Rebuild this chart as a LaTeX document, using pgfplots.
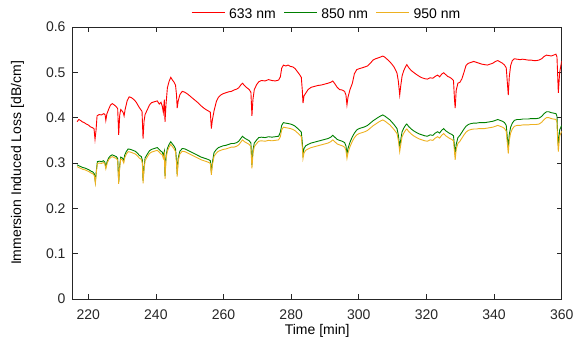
\documentclass[border=0pt]{standalone}
\usepackage{pgfplots}
\pgfplotsset{compat=1.18}
\usepackage{pgfplotstable}
\usepackage{fontspec}
\setmainfont{Liberation Sans}
\definecolor{cred}{RGB}{255,0,0}
\definecolor{cgreen}{RGB}{0,128,0}
\definecolor{cyel}{RGB}{237,177,32}
\definecolor{axgray}{RGB}{38,38,38}

\pgfplotstableread{
t v
216.7 0.391
217.2 0.396
217.7 0.394
218.2 0.391
218.8 0.389
219.4 0.386
220.0 0.384
220.6 0.380
221.2 0.378
221.7 0.376
222.0 0.352
222.3 0.372
222.6 0.404
223.2 0.407
223.9 0.406
224.6 0.409
225.0 0.406
225.2 0.394
225.5 0.408
226.1 0.420
226.6 0.428
227.1 0.431
227.7 0.428
228.3 0.424
228.7 0.420
229.0 0.362
229.3 0.405
229.6 0.418
230.1 0.414
230.4 0.410
230.6 0.404
230.9 0.418
231.5 0.437
232.1 0.446
232.8 0.444
233.5 0.440
234.2 0.434
234.8 0.426
235.4 0.419
235.9 0.414
236.2 0.354
236.5 0.392
236.8 0.407
237.5 0.418
238.1 0.428
238.7 0.433
239.5 0.435
240.4 0.437
241.0 0.430
241.5 0.434
241.9 0.425
242.2 0.412
242.5 0.440
242.7 0.391
243.0 0.430
243.4 0.466
243.9 0.480
244.4 0.489
244.9 0.483
245.4 0.478
245.8 0.472
246.1 0.450
246.3 0.421
246.6 0.437
247.1 0.451
247.8 0.458
248.6 0.456
249.4 0.452
250.2 0.447
251.0 0.442
251.8 0.437
252.6 0.432
253.4 0.426
254.2 0.421
255.0 0.417
255.7 0.414
256.1 0.412
256.4 0.376
256.7 0.395
257.2 0.415
257.9 0.436
258.5 0.445
259.2 0.450
259.9 0.453
260.7 0.455
261.5 0.457
262.3 0.458
263.1 0.461
263.9 0.463
264.5 0.466
265.1 0.472
265.6 0.476
266.2 0.471
266.9 0.466
267.6 0.462
268.1 0.456
268.4 0.404
268.7 0.440
269.1 0.462
269.8 0.473
270.4 0.479
271.2 0.482
272.3 0.481
273.3 0.484
274.3 0.482
275.3 0.481
276.3 0.483
276.8 0.490
277.2 0.509
277.7 0.516
278.4 0.514
279.1 0.516
279.8 0.513
280.5 0.512
281.2 0.508
281.8 0.502
282.4 0.496
283.0 0.489
283.3 0.460
283.5 0.432
283.8 0.448
284.3 0.454
285.0 0.462
285.9 0.467
286.9 0.469
287.9 0.471
288.9 0.472
289.9 0.474
290.9 0.476
291.7 0.478
292.3 0.481
292.9 0.475
293.6 0.467
294.3 0.462
295.1 0.461
295.8 0.458
296.2 0.450
296.5 0.428
296.8 0.445
297.4 0.462
298.1 0.476
298.7 0.497
299.4 0.506
300.1 0.508
301.0 0.510
301.8 0.512
302.6 0.514
303.4 0.520
304.2 0.527
305.0 0.530
305.8 0.532
306.5 0.534
307.1 0.536
307.8 0.533
308.5 0.528
309.2 0.523
309.8 0.518
310.4 0.512
310.9 0.505
311.3 0.498
311.7 0.480
312.1 0.450
312.4 0.470
312.8 0.492
313.3 0.504
313.8 0.512
314.2 0.517
314.8 0.510
315.5 0.504
316.2 0.500
317.1 0.495
317.9 0.491
318.7 0.488
319.5 0.486
320.3 0.485
321.1 0.488
321.9 0.487
322.6 0.491
323.3 0.494
323.9 0.490
324.5 0.496
325.1 0.499
325.7 0.495
326.3 0.491
326.9 0.489
327.5 0.486
328.0 0.482
328.3 0.440
328.5 0.421
328.8 0.460
329.3 0.476
329.9 0.478
330.5 0.486
331.1 0.500
331.7 0.515
332.4 0.520
333.2 0.522
334.0 0.524
334.8 0.522
335.6 0.520
336.4 0.518
337.2 0.517
338.0 0.516
338.8 0.518
339.6 0.520
340.4 0.524
341.1 0.526
341.8 0.523
342.5 0.520
343.1 0.516
343.6 0.510
343.9 0.480
344.2 0.450
344.5 0.490
344.9 0.515
345.4 0.526
346.0 0.530
346.8 0.529
347.7 0.528
348.5 0.529
349.3 0.528
350.1 0.527
350.9 0.527
351.7 0.526
352.5 0.526
353.3 0.527
354.1 0.530
354.8 0.535
355.5 0.538
356.2 0.537
356.9 0.536
357.6 0.538
358.3 0.540
358.6 0.534
358.8 0.495
359.0 0.455
359.4 0.500
360.0 0.525
}\redtab

\pgfplotstableread{
t v
216.7 0.296
217.2 0.294
217.8 0.292
218.4 0.290
219.0 0.289
219.6 0.287
220.2 0.285
220.8 0.282
221.4 0.280
221.8 0.276
222.1 0.259
222.4 0.284
222.7 0.303
223.3 0.304
223.9 0.303
224.5 0.305
224.9 0.302
225.2 0.291
225.6 0.304
226.1 0.312
226.6 0.316
227.1 0.318
227.7 0.316
228.3 0.314
228.7 0.310
229.0 0.258
229.3 0.294
229.6 0.313
230.1 0.311
230.5 0.306
230.8 0.318
231.3 0.326
231.8 0.331
232.5 0.330
233.2 0.328
233.9 0.326
234.5 0.322
235.1 0.317
235.7 0.314
236.0 0.306
236.2 0.261
236.5 0.291
236.8 0.311
237.5 0.320
238.1 0.327
238.7 0.330
239.5 0.332
240.4 0.334
241.0 0.330
241.5 0.326
241.9 0.324
242.2 0.316
242.5 0.326
242.7 0.271
243.0 0.316
243.4 0.332
243.9 0.341
244.4 0.347
244.9 0.342
245.4 0.337
245.8 0.331
246.1 0.306
246.3 0.276
246.6 0.311
247.1 0.326
247.8 0.332
248.6 0.331
249.4 0.328
250.2 0.325
251.0 0.322
251.8 0.319
252.6 0.316
253.4 0.313
254.2 0.311
255.0 0.309
255.7 0.307
256.1 0.305
256.4 0.280
256.7 0.301
257.2 0.323
257.9 0.330
258.5 0.334
259.2 0.336
259.9 0.338
260.7 0.339
261.5 0.341
262.3 0.343
263.1 0.343
263.9 0.345
264.5 0.348
265.1 0.354
265.6 0.359
266.2 0.355
266.9 0.352
267.6 0.349
268.1 0.344
268.4 0.296
268.7 0.328
269.1 0.344
269.8 0.351
270.4 0.356
271.2 0.357
272.3 0.356
273.3 0.358
274.3 0.357
275.3 0.358
276.3 0.359
276.8 0.368
277.2 0.383
277.7 0.389
278.4 0.388
279.1 0.387
279.8 0.386
280.5 0.384
281.2 0.381
281.8 0.377
282.4 0.373
283.0 0.368
283.3 0.345
283.5 0.320
283.8 0.332
284.3 0.338
285.0 0.341
285.9 0.344
286.9 0.346
287.9 0.348
288.9 0.350
289.9 0.352
290.9 0.354
291.7 0.357
292.3 0.361
292.9 0.357
293.6 0.352
294.3 0.350
295.1 0.348
295.8 0.345
296.2 0.338
296.5 0.320
296.8 0.332
297.4 0.346
298.1 0.358
298.7 0.366
299.4 0.373
300.1 0.376
301.0 0.378
301.8 0.380
302.6 0.383
303.4 0.388
304.2 0.393
305.0 0.397
305.8 0.401
306.5 0.404
307.1 0.406
307.8 0.403
308.5 0.399
309.2 0.395
309.8 0.390
310.4 0.385
310.9 0.380
311.3 0.376
311.7 0.361
312.1 0.336
312.4 0.351
312.8 0.369
313.3 0.377
313.8 0.383
314.2 0.386
314.8 0.380
315.5 0.375
316.2 0.371
317.1 0.367
317.9 0.364
318.7 0.362
319.5 0.360
320.3 0.359
321.1 0.362
321.9 0.361
322.6 0.366
323.3 0.369
323.9 0.366
324.5 0.372
325.1 0.376
325.7 0.371
326.3 0.368
326.9 0.365
327.5 0.363
328.0 0.360
328.3 0.336
328.5 0.318
328.8 0.341
329.3 0.356
329.9 0.361
330.5 0.368
331.1 0.375
331.7 0.381
332.4 0.385
333.2 0.387
334.0 0.388
334.8 0.388
335.6 0.389
336.4 0.389
337.2 0.389
338.0 0.390
338.8 0.391
339.6 0.392
340.4 0.394
341.1 0.396
341.8 0.394
342.5 0.392
343.1 0.389
343.6 0.383
343.9 0.358
344.2 0.334
344.5 0.363
344.9 0.379
345.4 0.388
346.0 0.394
346.8 0.396
347.7 0.396
348.5 0.397
349.3 0.397
350.1 0.397
350.9 0.398
351.7 0.398
352.5 0.398
353.3 0.399
354.1 0.403
354.8 0.409
355.5 0.413
356.2 0.413
356.9 0.411
357.6 0.410
358.3 0.409
358.6 0.403
358.8 0.363
359.0 0.338
359.4 0.373
360.0 0.383
}\greentab

\pgfplotstableread{
t v
216.7 0.292
217.2 0.290
217.8 0.288
218.4 0.286
219.0 0.285
219.6 0.283
220.2 0.281
220.8 0.278
221.4 0.276
221.8 0.272
222.1 0.255
222.4 0.280
222.7 0.299
223.3 0.300
223.9 0.299
224.5 0.301
224.9 0.298
225.2 0.287
225.6 0.300
226.1 0.308
226.6 0.312
227.1 0.314
227.7 0.312
228.3 0.310
228.7 0.306
229.0 0.254
229.3 0.290
229.6 0.309
230.1 0.307
230.5 0.300
230.8 0.312
231.3 0.320
231.8 0.325
232.5 0.324
233.2 0.322
233.9 0.320
234.5 0.316
235.1 0.311
235.7 0.308
236.0 0.300
236.2 0.255
236.5 0.285
236.8 0.305
237.5 0.314
238.1 0.321
238.7 0.324
239.5 0.326
240.4 0.328
241.0 0.324
241.5 0.320
241.9 0.318
242.2 0.310
242.5 0.320
242.7 0.265
243.0 0.310
243.4 0.326
243.9 0.335
244.4 0.341
244.9 0.336
245.4 0.331
245.8 0.325
246.1 0.300
246.3 0.270
246.6 0.305
247.1 0.320
247.8 0.326
248.6 0.325
249.4 0.322
250.2 0.319
251.0 0.316
251.8 0.313
252.6 0.310
253.4 0.307
254.2 0.305
255.0 0.303
255.7 0.301
256.1 0.299
256.4 0.274
256.7 0.295
257.2 0.315
257.9 0.322
258.5 0.326
259.2 0.328
259.9 0.330
260.7 0.331
261.5 0.333
262.3 0.335
263.1 0.335
263.9 0.337
264.5 0.340
265.1 0.346
265.6 0.351
266.2 0.347
266.9 0.344
267.6 0.341
268.1 0.336
268.4 0.288
268.7 0.320
269.1 0.336
269.8 0.343
270.4 0.348
271.2 0.349
272.3 0.348
273.3 0.350
274.3 0.349
275.3 0.350
276.3 0.351
276.8 0.358
277.2 0.373
277.7 0.379
278.4 0.378
279.1 0.377
279.8 0.376
280.5 0.374
281.2 0.371
281.8 0.367
282.4 0.363
283.0 0.358
283.3 0.335
283.5 0.310
283.8 0.322
284.3 0.328
285.0 0.331
285.9 0.334
286.9 0.336
287.9 0.338
288.9 0.340
289.9 0.342
290.9 0.344
291.7 0.347
292.3 0.351
292.9 0.347
293.6 0.342
294.3 0.340
295.1 0.338
295.8 0.335
296.2 0.328
296.5 0.310
296.8 0.322
297.4 0.336
298.1 0.348
298.7 0.356
299.4 0.362
300.1 0.365
301.0 0.367
301.8 0.369
302.6 0.372
303.4 0.377
304.2 0.382
305.0 0.386
305.8 0.390
306.5 0.393
307.1 0.395
307.8 0.392
308.5 0.388
309.2 0.384
309.8 0.379
310.4 0.374
310.9 0.369
311.3 0.365
311.7 0.350
312.1 0.325
312.4 0.340
312.8 0.358
313.3 0.366
313.8 0.372
314.2 0.375
314.8 0.369
315.5 0.364
316.2 0.360
317.1 0.356
317.9 0.353
318.7 0.351
319.5 0.349
320.3 0.348
321.1 0.351
321.9 0.350
322.6 0.355
323.3 0.358
323.9 0.355
324.5 0.361
325.1 0.365
325.7 0.360
326.3 0.357
326.9 0.354
327.5 0.352
328.0 0.349
328.3 0.325
328.5 0.307
328.8 0.330
329.3 0.343
329.9 0.348
330.5 0.355
331.1 0.362
331.7 0.368
332.4 0.372
333.2 0.374
334.0 0.375
334.8 0.375
335.6 0.376
336.4 0.376
337.2 0.376
338.0 0.377
338.8 0.378
339.6 0.379
340.4 0.381
341.1 0.383
341.8 0.381
342.5 0.379
343.1 0.376
343.6 0.370
343.9 0.345
344.2 0.321
344.5 0.350
344.9 0.366
345.4 0.375
346.0 0.381
346.8 0.383
347.7 0.383
348.5 0.384
349.3 0.384
350.1 0.384
350.9 0.385
351.7 0.385
352.5 0.385
353.3 0.386
354.1 0.390
354.8 0.396
355.5 0.400
356.2 0.400
356.9 0.398
357.6 0.397
358.3 0.396
358.6 0.390
358.8 0.350
359.0 0.325
359.4 0.360
360.0 0.370
}\yeltab

\begin{document}
\begin{tikzpicture}[font=\fontsize{14}{16}\selectfont]
\begin{axis}[
  scale only axis, width=489pt, height=272pt,
  xmin=215.4, xmax=360, ymin=0, ymax=0.6,
  xtick={220,240,...,360}, ytick={0,0.1,0.2,0.3,0.4,0.5,0.6},
  tick align=inside, major tick length=5pt,
  axis line style={axgray, line width=0.6pt},
  every tick/.style={axgray, line width=0.6pt},
  tick label style={font=\fontsize{14}{16}\selectfont, text=axgray},
  label style={font=\fontsize{14}{16}\selectfont, text=axgray},
  /pgf/number format/assume math mode=true,
  yticklabel style={/pgf/number format/fixed, /pgf/number format/precision=1, anchor=east, inner sep=0pt, xshift=-7pt},
  xticklabel style={/pgf/number format/1000 sep={}, anchor=north, inner sep=0pt, yshift=-11pt},
  xlabel={Time [min]}, ylabel={Immersion Induced Loss [dB/cm]},
  every axis x label/.style={at={(axis description cs:0.5,-0.118)}, anchor=center},
  every axis y label/.style={at={(axis description cs:-0.113,0.5)}, rotate=90, anchor=center},
  legend image code/.code={},
  legend style={at={(0.2434,1.048)}, anchor=west, draw=none, fill=none, inner sep=0pt, outer sep=0pt,
    legend columns=-1, font=\fontsize{14}{16}\selectfont,
    nodes={inner xsep=0pt},
    /tikz/every odd column/.append style={column sep=0pt},
    /tikz/every even column/.append style={column sep=8.3pt}},
]
\addplot[color=cred, line width=0.9pt] table[x=t, y=v] {\redtab};
\addlegendentry{\textcolor{cred}{\rule[4.6pt]{33pt}{1pt}}\hspace{4.3pt}633 nm}
\addplot[color=cgreen, line width=0.9pt] table[x=t, y=v] {\greentab};
\addlegendentry{\textcolor{cgreen}{\rule[4.6pt]{33pt}{1pt}}\hspace{4.3pt}850 nm}
\addplot[color=cyel, line width=0.9pt] table[x=t, y=v] {\yeltab};
\addlegendentry{\textcolor{cyel}{\rule[4.6pt]{33pt}{1pt}}\hspace{4.3pt}950 nm}
\end{axis}
\pgfresetboundingbox
\path (current axis.south west) ++(-72.7pt,-44pt) rectangle ++(575pt,343pt);
\end{tikzpicture}
\end{document}
